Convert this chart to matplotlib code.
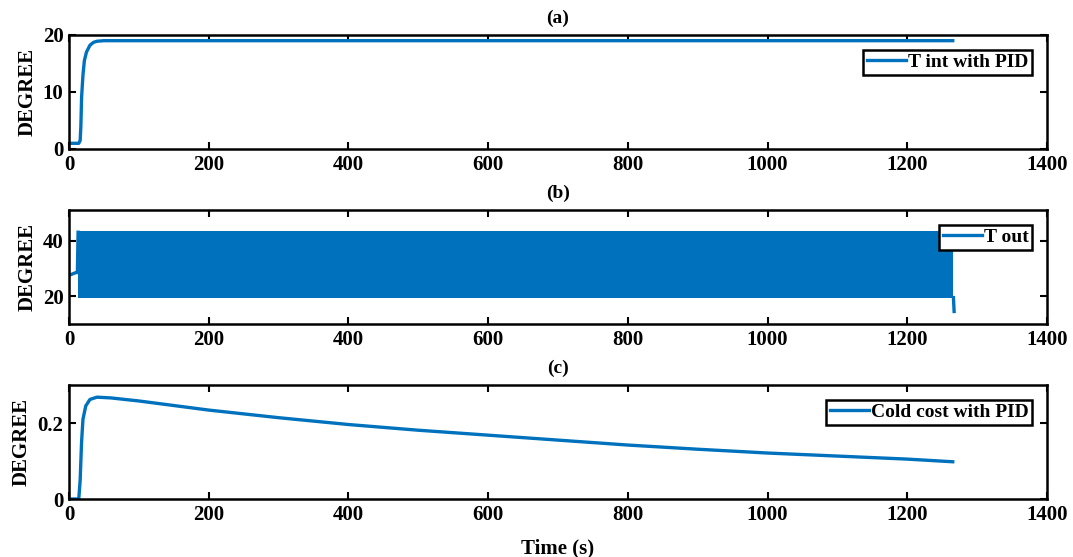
import matplotlib.pyplot as plt

plt.rcParams['font.family'] = ['Liberation Serif', 'DejaVu Serif']
plt.rcParams['font.weight'] = 'bold'
plt.rcParams['axes.labelweight'] = 'bold'

# (a) indoor temperature with PID
t_int = [0, 14, 16, 17, 18, 20, 22, 25, 30, 35, 40, 50, 1265]
temp_int = [1, 1, 1.5, 4, 9, 13, 15.5, 17, 18.2, 18.7, 18.9, 19, 19]

# (b) outdoor temperature: flat start, fast oscillation band, final drop
t_out_start = [0, 10, 12]
temp_out_start = [27.5, 28.5, 28.5]
band_t = [13, 1266]
band_hi = [43.5, 43.5]
band_lo = [19.5, 19.5]
t_out_end = [1266, 1267]
temp_out_end = [19.5, 14.5]

# (c) cold cost with PID
t_cost = [0, 14, 16, 18, 20, 24, 30, 40, 60, 100, 200, 300, 400, 500,
          600, 700, 800, 900, 1000, 1100, 1200, 1265]
cost = [0, 0, 0.05, 0.15, 0.21, 0.245, 0.262, 0.268, 0.266, 0.258, 0.234,
        0.214, 0.196, 0.181, 0.168, 0.155, 0.142, 0.131, 0.121, 0.113,
        0.105, 0.098]

xticks = [0, 200, 400, 600, 800, 1000, 1200, 1400]
blue = '#0072BD'
fs = 15

fig = plt.figure(figsize=(10.73, 5.57), dpi=100)
ax1 = fig.add_axes([0.0643, 0.7325, 0.9115, 0.2047])
ax2 = fig.add_axes([0.0643, 0.4183, 0.9115, 0.2047])
ax3 = fig.add_axes([0.0643, 0.1041, 0.9115, 0.2047])

ax1.plot(t_int, temp_int, color=blue, lw=2.4, label='T int with PID')
ax1.set_ylim(0, 20)
ax1.set_yticks([0, 10, 20])
ax1.set_title('(a)', fontsize=14, fontweight='bold', pad=9)

ax2.plot(t_out_start + [band_t[0]], temp_out_start + [band_hi[0] - 0.5],
         color=blue, lw=2.4, label='T out')
ax2.fill_between(band_t, band_lo, band_hi, color=blue, lw=0)
ax2.plot(t_out_end, temp_out_end, color=blue, lw=2.4)
ax2.set_ylim(10, 51)
ax2.set_yticks([20, 40])
ax2.set_title('(b)', fontsize=14, fontweight='bold', pad=9)

ax3.plot(t_cost, cost, color=blue, lw=2.4, label='Cold cost with PID')
ax3.set_ylim(0, 0.3)
ax3.set_yticks([0, 0.2])
ax3.set_yticklabels(['0', '0.2'])
ax3.set_title('(c)', fontsize=14, fontweight='bold', pad=9)
ax3.set_xlabel('Time (s)', fontsize=15, labelpad=10)

for ax in (ax1, ax2, ax3):
    ax.set_xlim(0, 1400)
    ax.set_xticks(xticks)
    ax.tick_params(direction='in', top=True, right=True, length=5,
                   width=1.5, labelsize=fs, pad=4)
    for s in ax.spines.values():
        s.set_linewidth(1.8)
    ax.set_ylabel('DEGREE', fontsize=fs, labelpad=4)
    leg = ax.legend(loc='upper right', fontsize=14, handlelength=2.0,
                    handletextpad=0.1, borderpad=0.2, borderaxespad=0.75,
                    fancybox=False, framealpha=1, edgecolor='black')
    leg.get_frame().set_linewidth(1.8)

fig.savefig('out.png', dpi=100)
